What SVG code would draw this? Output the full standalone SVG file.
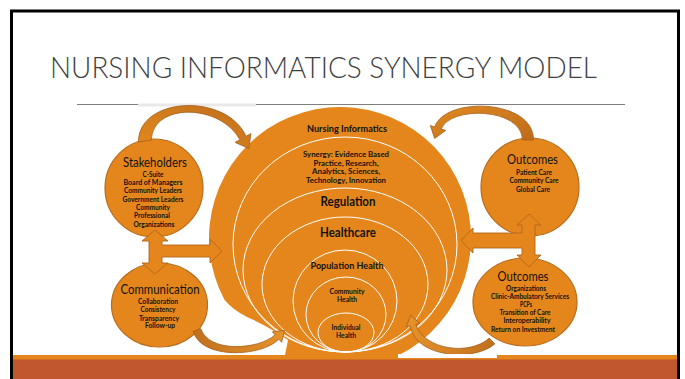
<svg xmlns="http://www.w3.org/2000/svg" width="685" height="379" viewBox="0 0 685 379">
<style>
.t{font-family:Lato,'Liberation Sans',sans-serif;text-anchor:middle;fill:#111}
.b{font-weight:bold}
.h{font-size:12.5px}
.s{font-size:6.6px;font-weight:bold}
.node{fill:#E4861B;stroke:#B86C1E;stroke-width:1.2}
.ring{fill:none;stroke:#FFFFFF;stroke-width:1}
.tee{fill:#E4861B;stroke:#B0681D;stroke-width:0.9}
.curve{stroke:#A65E1A;stroke-width:0.8}
</style>
<defs>
<linearGradient id="gTL" x1="0" y1="1" x2="1" y2="0">
<stop offset="0" stop-color="#E38A1E"/><stop offset="1" stop-color="#BF6E1D"/>
</linearGradient>
<linearGradient id="gTR" x1="1" y1="1" x2="0" y2="0">
<stop offset="0" stop-color="#BE6A1B"/><stop offset="1" stop-color="#E08A20"/>
</linearGradient>
<linearGradient id="gB" x1="0" y1="0" x2="1" y2="0">
<stop offset="0" stop-color="#C0701E"/><stop offset="1" stop-color="#E6932A"/>
</linearGradient>
<linearGradient id="gBR" x1="1" y1="0" x2="0" y2="0">
<stop offset="0" stop-color="#C0701E"/><stop offset="1" stop-color="#E6932A"/>
</linearGradient>
</defs>
<rect width="685" height="379" fill="#FFFFFF"/>
<text x="50" y="78" textLength="547" lengthAdjust="spacingAndGlyphs" style="font-family:Lato,'Liberation Sans',sans-serif;font-weight:300;font-size:29px;fill:#404040">NURSING INFORMATICS SYNERGY MODEL</text>
<line x1="77" y1="104.5" x2="625" y2="104.5" stroke="#7F7F7F" stroke-width="1"/>
<rect x="138" y="103.5" width="118" height="3" fill="#E9E9E9"/>

<g id="core">
<path d="M224.6,300 A131,131 0 1 1 399,355 L285,355 L288,340 Q268,326 247,317 Q233,310 224.6,300 Z" fill="#E4861B"/>
<ellipse class="ring" cx="345" cy="244.5" rx="112" ry="107.5"/>
<ellipse class="ring" cx="345" cy="270" rx="102" ry="82"/>
<ellipse class="ring" cx="345" cy="284.5" rx="83" ry="67.5"/>
<ellipse class="ring" cx="345" cy="301" rx="52" ry="51"/>
<ellipse class="ring" cx="346" cy="314.5" rx="40" ry="37.5"/>
<ellipse class="ring" cx="346" cy="332.5" rx="28" ry="19.5"/>
<text class="t b" x="347" y="131.5" font-size="9.5" textLength="80" lengthAdjust="spacingAndGlyphs">Nursing Informatics</text>
<text class="t b" x="346" y="157" font-size="8" textLength="86" lengthAdjust="spacingAndGlyphs">Synergy: Evidence Based</text>
<text class="t b" x="346" y="165.5" font-size="8" textLength="65" lengthAdjust="spacingAndGlyphs">Practice, Research,</text>
<text class="t b" x="346" y="174" font-size="8" textLength="68" lengthAdjust="spacingAndGlyphs">Analytics, Sciences,</text>
<text class="t b" x="346" y="182.5" font-size="8" textLength="80" lengthAdjust="spacingAndGlyphs">Technology, Innovation</text>
<text class="t b" x="348" y="206" font-size="12.5" textLength="55" lengthAdjust="spacingAndGlyphs">Regulation</text>
<text class="t b" x="348" y="236.5" font-size="12.5" textLength="56" lengthAdjust="spacingAndGlyphs">Healthcare</text>
<text class="t b" x="347" y="269" font-size="10" textLength="73" lengthAdjust="spacingAndGlyphs">Population Health</text>
<text class="t b" x="347" y="294" font-size="7" textLength="35" lengthAdjust="spacingAndGlyphs">Community</text>
<text class="t b" x="347" y="302" font-size="7" textLength="20" lengthAdjust="spacingAndGlyphs">Health</text>
<text class="t b" x="346" y="330" font-size="7" textLength="29" lengthAdjust="spacingAndGlyphs">Individual</text>
<text class="t b" x="346" y="337.5" font-size="7" textLength="20" lengthAdjust="spacingAndGlyphs">Health</text>
</g>

<g id="stakeholders">
<circle class="node" cx="154" cy="188" r="49"/>
<text class="t h" x="155" y="167" textLength="64" lengthAdjust="spacingAndGlyphs">Stakeholders</text>
<text class="t s" x="153" y="177" textLength="21" lengthAdjust="spacingAndGlyphs">C-Suite</text>
<text class="t s" x="153" y="185" textLength="59" lengthAdjust="spacingAndGlyphs">Board of Managers</text>
<text class="t s" x="153" y="193" textLength="58" lengthAdjust="spacingAndGlyphs">Community Leaders</text>
<text class="t s" x="153" y="202" textLength="61" lengthAdjust="spacingAndGlyphs">Government Leaders</text>
<text class="t s" x="153" y="210" textLength="34" lengthAdjust="spacingAndGlyphs">Community</text>
<text class="t s" x="152" y="218" textLength="36" lengthAdjust="spacingAndGlyphs">Professional</text>
<text class="t s" x="154" y="227" textLength="41" lengthAdjust="spacingAndGlyphs">Organizations</text>
</g>

<g id="communication">
<ellipse class="node" cx="159.5" cy="305" rx="48" ry="42"/>
<text class="t h" x="160" y="294" textLength="79" lengthAdjust="spacingAndGlyphs">Communication</text>
<text class="t s" x="158" y="304" textLength="40" lengthAdjust="spacingAndGlyphs">Collaboration</text>
<text class="t s" x="158" y="312" textLength="35" lengthAdjust="spacingAndGlyphs">Consistency</text>
<text class="t s" x="159" y="321" textLength="40" lengthAdjust="spacingAndGlyphs">Transparency</text>
<text class="t s" x="160" y="328" textLength="30" lengthAdjust="spacingAndGlyphs">Follow-up</text>
</g>

<g id="outcomes-top">
<circle class="node" cx="530" cy="187" r="49"/>
<text class="t h" x="532.5" y="164" textLength="51" lengthAdjust="spacingAndGlyphs">Outcomes</text>
<text class="t s" x="534" y="175" textLength="36" lengthAdjust="spacingAndGlyphs">Patient Care</text>
<text class="t s" x="534" y="183" textLength="49" lengthAdjust="spacingAndGlyphs">Community Care</text>
<text class="t s" x="533" y="192" textLength="34" lengthAdjust="spacingAndGlyphs">Global Care</text>
</g>

<g id="outcomes-bottom">
<ellipse class="node" cx="525" cy="302" rx="52" ry="44"/>
<text class="t h" x="523" y="281" textLength="51" lengthAdjust="spacingAndGlyphs">Outcomes</text>
<text class="t s" x="526" y="291" textLength="40" lengthAdjust="spacingAndGlyphs">Organizations</text>
<text class="t s" x="530" y="298.5" textLength="78" lengthAdjust="spacingAndGlyphs">Clinic-Ambulatory Services</text>
<text class="t s" x="526" y="307" textLength="12" lengthAdjust="spacingAndGlyphs">PCPs</text>
<text class="t s" x="525" y="315" textLength="51" lengthAdjust="spacingAndGlyphs">Transition of Care</text>
<text class="t s" x="527" y="323" textLength="47" lengthAdjust="spacingAndGlyphs">Interoperability</text>
<text class="t s" x="523" y="332" textLength="64" lengthAdjust="spacingAndGlyphs">Return on Investment</text>
</g>

<g id="connectors">
<path class="curve" fill="url(#gTL)" d="M138.5,142 C138,97 226,92 246.1,136.3 L250.9,133.6 L248.9,148.5 L235.1,142.4 L239.9,139.7 C220,103 152,103 151.5,140 Z"/>
<path class="curve" fill="url(#gTR)" d="M533.5,140 C534,99 445,96 434.7,126.9 L430.4,125.6 L434.6,138.5 L445.6,130.4 L441.3,129.1 C449,106 522,107 522.5,140 Z"/>
<path class="curve" fill="url(#gB)" d="M193.2,331.2 C201,360 262,357 278.9,339.1 L281.6,342.3 L284.5,330.4 L272.4,331.8 L275.1,334.9 C258,350 209,353 200.8,328.8 Z"/>
<path class="curve" fill="url(#gBR)" d="M494.8,343.9 C474,362 415,358 410.3,325.6 L406.2,326.6 L410.7,315.3 L419.8,323.4 L415.7,324.4 C424,350 470,356 489.2,338.1 Z"/>
<path class="tee" d="M155,230 L168,241 L162,241 L162,245 L210,245 L210,239 L222,251 L210,263 L210,257 L162,257 L162,263 L168,263 L155,274 L142,263 L149,263 L149,241 L142,241 Z"/>
<path class="tee" d="M529,214 L541,225 L535,225 L535,255 L541,255 L529,267 L517,255 L522,255 L522,248 L473,248 L473,253 L461,240.5 L473,228 L473,233 L522,233 L522,225 L517,225 Z"/>
</g>

<rect x="11" y="355" width="667" height="5" fill="#E4861B"/>
<rect x="11" y="359.5" width="667" height="20" fill="#C0572E"/>
<rect x="398" y="354" width="99" height="4" fill="#FFFFFF"/>
<rect x="11.5" y="11" width="667" height="372" fill="none" stroke="#000000" stroke-width="3"/>
</svg>
